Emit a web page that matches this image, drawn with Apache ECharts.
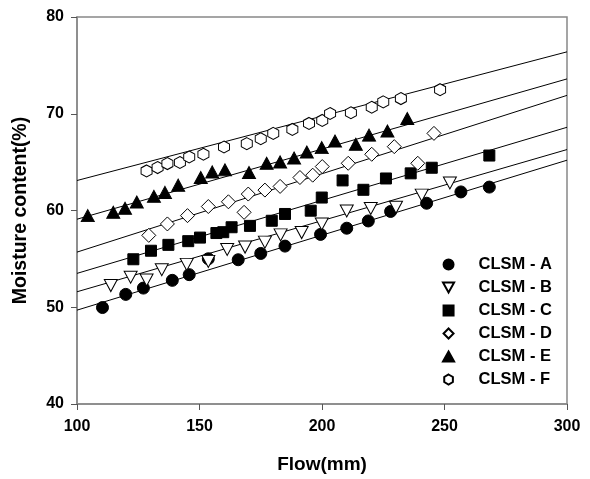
<!DOCTYPE html>
<html><head><meta charset="utf-8">
<script src="https://cdn.jsdelivr.net/npm/echarts@6/dist/echarts.min.js"></script>
<style>html,body{margin:0;padding:0;background:#fff}#c{width:590px;height:479px}</style>
</head><body><div id="c"></div>
<script>
const seriesNames = ['CLSM - A', 'CLSM - B', 'CLSM - C', 'CLSM - D', 'CLSM - E', 'CLSM - F'];

const flowA = [110.4, 119.9, 127.1, 138.9, 145.8, 153.6, 165.8, 175.0, 184.9, 199.4, 210.1, 218.9, 228.0, 242.7, 256.7, 268.3];
const moistA = [49.97, 51.33, 51.98, 52.78, 53.37, 55.01, 54.91, 55.56, 56.32, 57.53, 58.17, 58.92, 59.90, 60.75, 61.92, 62.42];

const flowB = [99.5, 113.8, 121.9, 128.4, 134.6, 144.8, 153.6, 161.3, 168.6, 176.7, 183.1, 191.7, 199.9, 210.1, 219.9, 230.2, 240.7, 252.2];
const moistB = [51.41, 52.24, 53.11, 52.82, 53.88, 54.43, 54.74, 55.97, 56.22, 56.73, 57.48, 57.72, 58.61, 59.95, 60.21, 60.33, 61.59, 62.85];

const flowC = [123.0, 130.2, 137.3, 145.4, 150.2, 156.9, 159.7, 163.1, 170.6, 179.5, 184.9, 195.4, 199.9, 208.4, 216.9, 226.1, 236.2, 244.8, 268.3];
const moistC = [54.96, 55.84, 56.45, 56.83, 57.20, 57.67, 57.76, 58.27, 58.41, 58.94, 59.64, 59.98, 61.34, 63.11, 62.14, 63.31, 63.84, 64.42, 65.68];

const flowD = [129.3, 136.9, 145.1, 153.6, 161.8, 168.2, 169.9, 176.7, 182.9, 191.0, 196.2, 200.1, 210.7, 220.3, 229.5, 239.1, 245.7];
const moistD = [57.43, 58.61, 59.47, 60.41, 60.90, 59.81, 61.70, 62.11, 62.49, 63.41, 63.65, 64.54, 64.88, 65.81, 66.60, 64.88, 67.97];

const flowE = [104.4, 114.8, 119.6, 124.4, 131.4, 135.9, 141.3, 150.5, 155.2, 160.4, 170.2, 177.4, 182.9, 188.6, 193.8, 199.9, 205.3, 213.8, 219.2, 226.7, 234.8];
const moistE = [59.47, 59.81, 60.23, 60.87, 61.46, 61.87, 62.62, 63.41, 63.99, 64.20, 63.93, 64.88, 65.02, 65.42, 66.05, 66.50, 67.18, 66.84, 67.79, 68.21, 69.51];

const flowF = [128.4, 132.9, 136.9, 142.0, 145.8, 151.6, 160.0, 169.3, 175.0, 180.1, 187.9, 194.7, 200.1, 203.3, 211.8, 220.3, 225.0, 232.2, 248.2];
const moistF = [64.09, 64.44, 64.85, 64.96, 65.53, 65.81, 66.56, 66.91, 67.42, 67.97, 68.38, 69.00, 69.31, 70.03, 70.10, 70.67, 71.23, 71.57, 72.49];

// regression lines: values at flow = 100 and flow = 300
const fitFlow = [100, 300];
const fitA = [49.7, 65.2];
const fitB = [51.6, 66.3];
const fitC = [53.5, 68.6];
const fitD = [55.7, 71.9];
const fitE = [59.1, 73.6];
const fitF = [63.1, 76.4];

const xTicks = [100, 150, 200, 250, 300];
const yTicks = [40, 50, 60, 70, 80];

const flows = [flowA, flowB, flowC, flowD, flowE, flowF];
const moists = [moistA, moistB, moistC, moistD, moistE, moistF];
const fits = [fitA, fitB, fitC, fitD, fitE, fitF];

const P = {
  circle: 'path://M1,0 A1,1 0 1 1 -1,0 A1,1 0 1 1 1,0 Z',
  triDown: 'path://M-1,-0.9 L1,-0.9 L0,0.9 Z',
  rect: 'path://M-1,-1 L1,-1 L1,1 L-1,1 Z',
  diamond: 'path://M0,-1 L1,0 L0,1 L-1,0 Z',
  triUp: 'path://M0,-0.9 L1,0.9 L-1,0.9 Z',
  hex: 'path://M0,-1 L0.866,-0.5 L0.866,0.5 L0,1 L-0.866,0.5 L-0.866,-0.5 Z'
};
const markers = [
  {symbol: P.circle, size: [12, 12], fill: '#000'},
  {symbol: P.triDown, size: [13, 12], fill: '#fff'},
  {symbol: P.rect, size: [11, 11], fill: '#000'},
  {symbol: P.diamond, size: [14, 14], fill: '#fff'},
  {symbol: P.triUp, size: [13, 12], fill: '#000'},
  {symbol: P.hex, size: [11, 12], fill: '#fff'}
];

const FONT = '"Liberation Sans", Arial, sans-serif';
const series = [];
fits.forEach((f, i) => {
  series.push({
    name: 'fit' + i, type: 'line', silent: true, symbol: 'none', z: 1,
    data: fitFlow.map((x, k) => [x, f[k]]),
    lineStyle: {color: '#000', width: 1},
    animation: false
  });
});
seriesNames.forEach((n, i) => {
  const m = markers[i];
  series.push({
    name: n, type: 'scatter', z: 3,
    symbol: m.symbol, symbolSize: m.size, symbolKeepAspect: false,
    data: flows[i].map((x, k) => [x, moists[i][k]]),
    itemStyle: {color: m.fill, borderColor: '#000', borderWidth: 1, opacity: 1},
    animation: false
  });
});

const chart = echarts.init(document.getElementById('c'), null, {renderer: 'canvas'});
chart.setOption({
  backgroundColor: '#fff',
  animation: false,
  grid: {left: 77, right: 23, top: 17, bottom: 73, show: true, borderColor: '#888', borderWidth: 1.5, backgroundColor: 'transparent'},
  xAxis: {
    type: 'value', min: xTicks[0], max: xTicks[xTicks.length - 1], interval: 50,
    name: 'Flow(mm)', nameLocation: 'middle', nameGap: 51,
    nameTextStyle: {fontFamily: FONT, fontWeight: 'bold', fontSize: 19, color: '#000'},
    axisLine: {show: true, onZero: false, lineStyle: {color: '#888', width: 1.5}},
    axisTick: {show: true, length: 6, lineStyle: {color: '#555', width: 1}},
    axisLabel: {margin: 15, fontFamily: FONT, fontWeight: 'bold', fontSize: 16, color: '#000'},
    splitLine: {show: false}
  },
  yAxis: {
    type: 'value', min: yTicks[0], max: yTicks[yTicks.length - 1], interval: 10,
    name: 'Moisture content(%)', nameLocation: 'middle', nameGap: 46, nameRotate: 90,
    nameTextStyle: {fontFamily: FONT, fontWeight: 'bold', fontSize: 19.5, color: '#000'},
    axisLine: {show: true, onZero: false, lineStyle: {color: '#888', width: 1.5}},
    axisTick: {show: true, length: 6, lineStyle: {color: '#555', width: 1}},
    axisLabel: {margin: 13, fontFamily: FONT, fontWeight: 'bold', fontSize: 16, color: '#000'},
    splitLine: {show: false}
  },
  legend: {
    data: seriesNames, orient: 'vertical', left: 437, top: 251,
    itemWidth: 50, itemHeight: 10, itemGap: 6, symbolKeepAspect: true,
    textStyle: {fontFamily: FONT, fontWeight: 'bold', fontSize: 16.5, color: '#000', lineHeight: 16}
  },
  series: series
});
</script></body></html>
